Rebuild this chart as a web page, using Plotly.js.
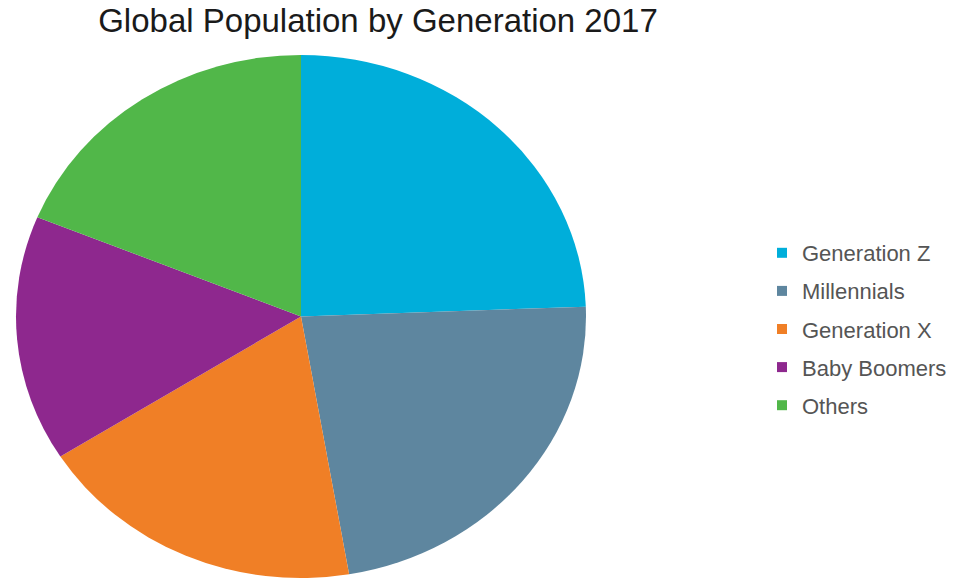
<!DOCTYPE html>
<html>
<head>
<meta charset="utf-8">
<script src="https://cdn.plot.ly/plotly-3.0.1.min.js"></script>
<style>
  html, body { margin: 0; padding: 0; background: #ffffff; }
  #chart { width: 964px; height: 578px; }
</style>
</head>
<body>
<div id="chart"></div>
<script>
// Share of the world population by generation, 2017 (percent)
const generations = ["Generation Z", "Millennials", "Generation X", "Baby Boomers", "Others"];
const shares = [24.4, 22.9, 18.7, 15.2, 18.8];
const sliceColors = ["#00aeda", "#5e869f", "#f07f26", "#8e288e", "#51b749"];

// Pie itself; its legend is drawn by the marker-only traces below so the
// entries can be spaced out evenly.
const pie = {
  type: "pie",
  labels: generations,
  values: shares,
  sort: false,
  direction: "clockwise",
  rotation: 0,
  textinfo: "none",
  hoverinfo: "label+percent",
  marker: { colors: sliceColors, line: { width: 0 } },
  domain: { x: [39 / 964, 563 / 964], y: [0, 523 / 578] },
  showlegend: false
};

const legendEntries = generations.map((name, i) => ({
  type: "scatter",
  mode: "markers",
  x: [null],
  y: [null],
  name: name,
  legendgroup: "g" + i,
  marker: { symbol: "square", size: 10, color: sliceColors[i] },
  hoverinfo: "skip"
}));

const layout = {
  width: 964,
  height: 578,
  margin: { l: 0, r: 0, t: 0, b: 0 },
  paper_bgcolor: "#ffffff",
  plot_bgcolor: "#ffffff",
  font: { family: "Liberation Sans, Arial, sans-serif" },
  title: {
    text: "Global Population by Generation 2017",
    font: { size: 33, color: "#1a1a1a", family: "Liberation Sans, Arial, sans-serif" },
    x: 378 / 964,
    xanchor: "center",
    y: 1 - 9 / 578,
    yanchor: "top",
    yref: "container"
  },
  xaxis: { visible: false, domain: [0.99, 1] },
  yaxis: { visible: false, domain: [0.99, 1] },
  showlegend: true,
  legend: {
    x: 762 / 964,
    xanchor: "left",
    y: 249 / 578,
    yanchor: "middle",
    traceorder: "grouped",
    tracegroupgap: 6.5,
    font: { size: 22, color: "#555555" },
    bgcolor: "rgba(0,0,0,0)"
  }
};

Plotly.newPlot("chart", [pie].concat(legendEntries), layout, { displayModeBar: false, staticPlot: true })
  .then(gd => {
    // The pie is drawn a little wider than it is tall.
    const cx = 301, sx = 285 / 261.5;
    const layer = gd.querySelector(".pielayer");
    if (layer) layer.setAttribute("transform", `translate(${cx},0) scale(${sx},1) translate(${-cx},0)`);
  });
</script>
</body>
</html>
